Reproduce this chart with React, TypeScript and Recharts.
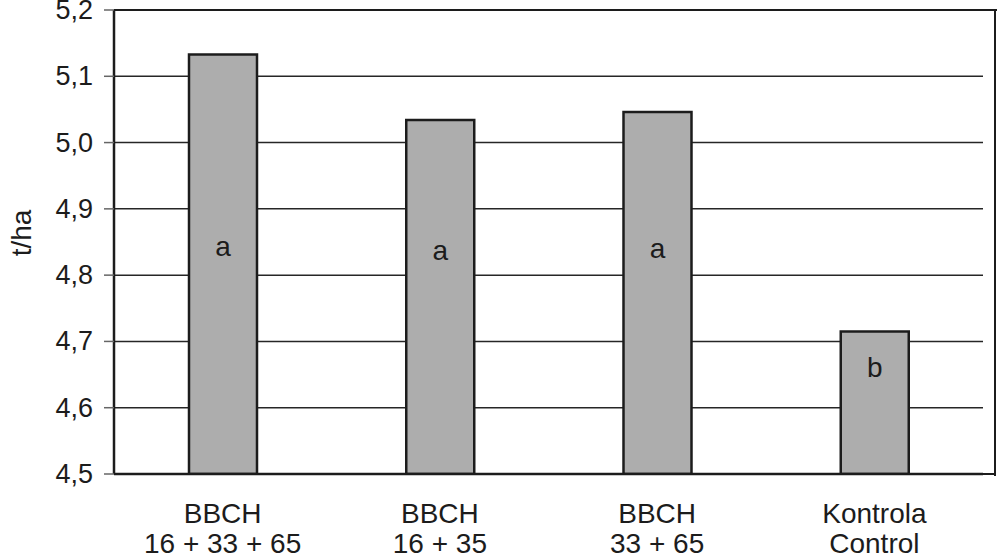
import React from "react";
import { BarChart, Bar, XAxis, YAxis, CartesianGrid, LabelList, Label } from "recharts";

const categories = ["BBCH\n16 + 33 + 65", "BBCH\n16 + 35", "BBCH\n33 + 65", "Kontrola\nControl"];
const yields = [5.133, 5.034, 5.046, 4.715];
const letters = ["a", "a", "a", "b"];
const letterAt = [4.839, 4.834, 4.836, 4.657];
const yTicks = [4.5, 4.6, 4.7, 4.8, 4.9, 5.0, 5.1, 5.2];

const data = categories.map((c, i) => ({ name: c, value: yields[i], letter: letters[i], letterAt: letterAt[i] }));

const FONT = "'Liberation Sans', Arial, Helvetica, sans-serif";
const DARK = "#1c1c1c";

const XTick = (props: any) => {
  const { x, payload } = props;
  const lines = String(payload.value).split("\n");
  return (
    <g>
      {lines.map((l: string, i: number) => (
        <text key={i} x={x} y={523 + i * 30} textAnchor="middle" fontSize={28} fill={DARK} fontFamily={FONT}>
          {l}
        </text>
      ))}
    </g>
  );
};

const YTick = (props: any) => {
  const { x, y, payload } = props;
  return (
    <text x={x} y={y} dy={9} textAnchor="end" fontSize={27} fill={DARK} fontFamily={FONT}>
      {Number(payload.value).toFixed(1).replace(".", ",")}
    </text>
  );
};

const LetterLabel = (props: any) => {
  const { x, y, width, height, index } = props;
  const d = data[index];
  const pxPerUnit = height / (d.value - 4.5);
  const cy = y + (d.value - d.letterAt) * pxPerUnit;
  return (
    <text x={x + width / 2} y={cy} dy={7} textAnchor="middle" fontSize={28} fill={DARK} fontFamily={FONT}>
      {d.letter}
    </text>
  );
};

const YTitle = () => (
  <text
    x={21}
    y={233}
    transform="rotate(-90 21 233)"
    textAnchor="middle"
    dy={10}
    fontSize={28}
    fill={DARK}
    fontFamily={FONT}
  >
    t/ha
  </text>
);

export default function App() {
  return (
    <div style={{ position: "absolute", left: 0, top: 0, width: 997, height: 556, background: "#fff" }}>
      <BarChart
        width={997}
        height={556}
        data={data}
        margin={{ top: 10, right: 14, bottom: 0, left: 0 }}
        barSize={68}
      >
        <CartesianGrid vertical={false} stroke="#262626" strokeWidth={1.5} />
        <XAxis
          dataKey="name"
          height={82}
          tickLine={false}
          axisLine={{ stroke: DARK, strokeWidth: 2.5 }}
          tick={<XTick />}
          interval={0}
        />
        <YAxis
          width={114}
          domain={[4.5, 5.2]}
          ticks={yTicks}
          interval={0}
          allowDataOverflow
          tick={<YTick />}
          tickSize={10}
          tickMargin={11}
          tickLine={{ stroke: "#666", strokeWidth: 1.5 }}
          axisLine={{ stroke: DARK, strokeWidth: 2.5 }}
        >
          <Label content={<YTitle />} />
        </YAxis>
        <Bar dataKey="value" fill="#adadad" stroke={DARK} strokeWidth={2.5} isAnimationActive={false}>
          <LabelList dataKey="letter" content={<LetterLabel />} />
        </Bar>
      </BarChart>
      <div style={{ position: "absolute", left: 114, top: 9, width: 883, height: 2, background: DARK }} />
      <div style={{ position: "absolute", left: 994, top: 9, width: 2, height: 467, background: DARK }} />
      <div style={{ position: "absolute", left: 983, top: 473, width: 12, height: 2, background: DARK }} />
    </div>
  );
}
